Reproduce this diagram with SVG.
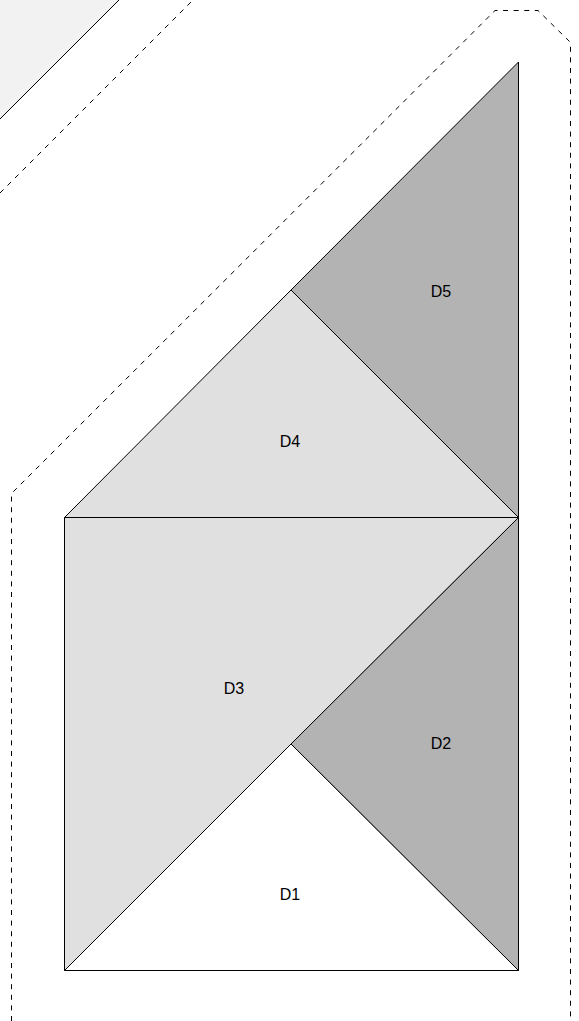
<svg xmlns="http://www.w3.org/2000/svg" width="579" height="1021" viewBox="0 0 579 1021">
<style>
.edge{stroke:#000;stroke-width:1;stroke-linejoin:round}
.dash{fill:none;stroke:#000;stroke-width:1;stroke-dasharray:5 5.6}
.dark{fill:#b3b3b3}
.light{fill:#e0e0e0}
.white{fill:#fff}
.lbl{font-family:"Liberation Sans",Arial,sans-serif;font-size:16px;fill:#000;text-anchor:middle}
</style>
<rect width="579" height="1021" fill="#fff"/>
<g id="background">
<polygon points="0,0 119,0 0,119" fill="#f2f2f2"/>
<line x1="0" y1="119" x2="119" y2="0" class="edge"/>
</g>
<g id="outlines">
<line x1="0" y1="193" x2="193" y2="0" class="dash"/>
<path d="M11.5,1021 V493.5 L495,10.5 H538 L570.5,42.5 V1021" class="dash"/>
</g>
<g id="D5">
<polygon points="291,290 518.5,62 518.5,517.5" class="dark edge"/>
<text x="441" y="297" class="lbl">D5</text>
</g>
<g id="D4">
<polygon points="64.5,517.5 518.5,517.5 291,290" class="light edge"/>
<text x="290" y="447" class="lbl">D4</text>
</g>
<g id="D3">
<polygon points="64.5,517.5 518.5,517.5 64.5,970.5" class="light edge"/>
<text x="234" y="694" class="lbl">D3</text>
</g>
<g id="D2">
<polygon points="518.5,517.5 518.5,970.5 291,744" class="dark edge"/>
<text x="441" y="749" class="lbl">D2</text>
</g>
<g id="D1">
<polygon points="64.5,970.5 518.5,970.5 291,744" class="white edge"/>
<text x="290" y="900" class="lbl">D1</text>
</g>
</svg>
